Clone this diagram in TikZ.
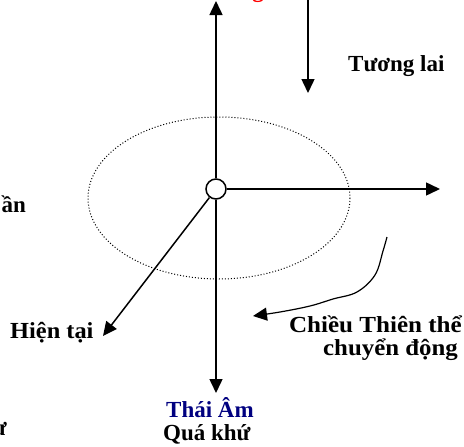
\documentclass[tikz,border=0pt]{standalone}
\usepackage{fontspec}
\setmainfont{Liberation Serif}
\usetikzlibrary{arrows.meta}
\definecolor{navyblue}{RGB}{0,0,128}
\tikzstyle{hub} = [draw, circle, fill=white, line width=1.5pt, minimum size=20pt, inner sep=0pt]
\tikzstyle{label} = [font=\bfseries\fontsize{23}{27}\selectfont, inner sep=0pt]
\tikzstyle{axis} = [line width=1.5pt, -{Triangle[length=14pt,width=13pt]}]
\tikzstyle{orbit} = [line width=1pt, dash pattern=on 1pt off 2pt]

\begin{document}
\begin{tikzpicture}[x=1pt, y=-1pt]
    \useasboundingbox (0,0) rectangle (464,447);
    \clip (0,0) rectangle (464,447);
    % Orbit and centre
    \draw [orbit] (219,198) ellipse [x radius=131, y radius=81];
    \node [hub] (O) at (216,189) {};
    \coordinate (top) at (216,1);
    \coordinate (bottom) at (216,393);
    \coordinate (right) at (440,189);
    \coordinate (lowleft) at (103,336);
    \coordinate (futtop) at (308,-2);
    \coordinate (futend) at (308,93);

    % Labels
    \node [label, anchor=base west] (future) at (348,71) {Tương lai};
    \node [label, anchor=base west] (present) at (10,338) {\scalebox{1.06}[1]{Hiện tại}};
    \node [label, anchor=base west, text=navyblue] (taiam) at (166,417) {Thái Âm};
    \node [label, anchor=base west] (past) at (163,440) {Quá khứ};
    \node [label, anchor=base east] (motion1) at (462,332) {\scalebox{1.09}[1]{Chiều Thiên thể}};
    \node [label, anchor=base east] (motion2) at (458,355) {\scalebox{1.08}[1]{chuyển động}};
    % Cut-off texts at the edges
    \node [label, anchor=base east] (leftcut) at (26,212) {ần};
    \node [label, anchor=base east] (bottomcut) at (7,435) {ư};
    \node [label, anchor=base, text=red] (topcut) at (258,-2.5) {g};

    % Axes
    \draw [axis] (O) -- (top);
    \draw [axis] (O) -- (bottom);
    \draw [axis] (O) -- (right);
    \draw [axis] (O) -- (lowleft);
    \draw [axis] (futtop) -- (futend);

    % Motion curve
    \coordinate (ws) at (387,237);
    \coordinate (we) at (253,316);
    \draw [axis, line width=1.2pt] plot [smooth, tension=0.6] coordinates {(ws) (383,251) (375,275) (357,292) (333,299) (310,306) (280,312) (we)};
\end{tikzpicture}
\end{document}
